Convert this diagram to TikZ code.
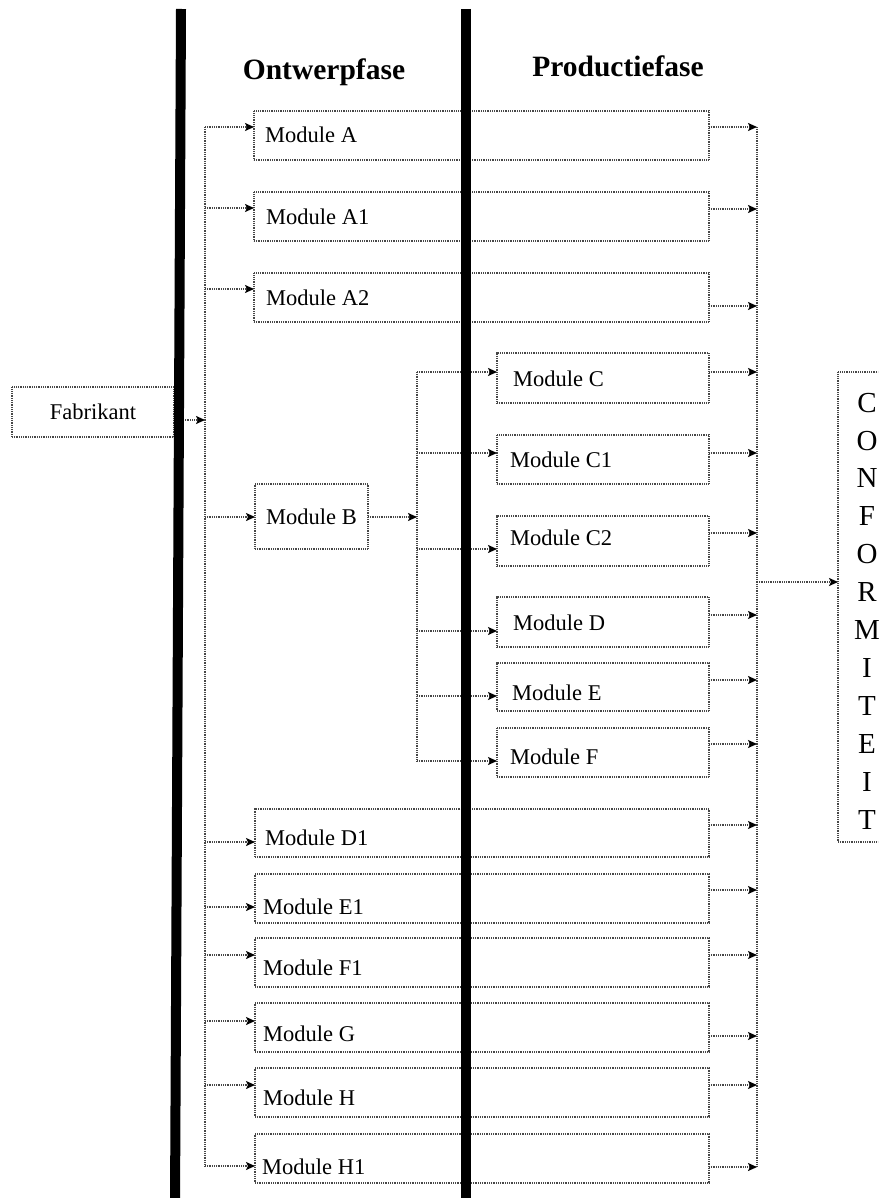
\documentclass[tikz,border=0pt]{standalone}
\usepackage{fontspec}
\setmainfont{Liberation Serif}
\usetikzlibrary{arrows.meta}
\tikzset{
  conn/.style={draw=black!72, line width=1.6pt, dash pattern=on 1pt off 0.8pt},
  arr/.style={conn, -{Stealth[length=9pt,width=8pt,inset=2pt,black]}},
  box/.style={conn, anchor=north west, inner sep=0pt, outer sep=0pt},
  lbl/.style={anchor=west, inner sep=0pt, font=\fontsize{22.5}{26}\selectfont},
  head/.style={anchor=base, inner sep=0pt, font=\fontsize{29.5}{34}\selectfont\bfseries},
  phase/.style={line width=10pt, draw=black},
}
% name, left, top, right, bottom, text x, text y, label
\newcommand\Mbox[8]{%
  \node[box, minimum width={#4-#2}, minimum height={#5-#3}] (#1) at (#2,#3) {};
  \node[lbl] (#1t) at (#6,#7) {#8};}
% name, in-bus x, in y, out-bus x, out y
\newcommand\Mlinks[5]{%
  \coordinate (#1i) at (#2,#3);
  \coordinate (#1o) at (#4,#5);
  \draw[arr] (#1i) -- (#1i -| #1.west);
  \draw[arr] (#1.east |- #1o) -- (#1o);}
\begin{document}
\begin{tikzpicture}[x=1pt,y=-1pt]
\useasboundingbox (0,0) rectangle (878,1198);
\clip (0,0) rectangle (878,1198);

% headers
\node[head] (ont) at (324,80) {Ontwerpfase};
\node[head] (prod) at (618,77) {Productiefase};

% Fabrikant
\node[box, font=\fontsize{22.5}{26}\selectfont, minimum width=162, minimum height=50] (fab) at (12,387) {Fabrikant};
\coordinate (lb) at (205,420);
\draw[arr] (fab.east |- lb) -- (lb);

% buses
\coordinate (lbT) at (205,127);
\coordinate (lbB) at (205,1166);
\draw[conn] (lbT) -- (lbB);
\coordinate (ibT) at (417,372);
\coordinate (ibB) at (417,761);
\draw[conn] (ibT) -- (ibB);
\coordinate (rbT) at (757,127);
\coordinate (rbB) at (757,1167);
\draw[conn] (rbT) -- (rbB);

% long modules
\Mbox{A}{254}{111}{709}{160}{265}{135}{Module A}
\Mlinks{A}{205}{127}{757}{127}
\Mbox{AA}{254}{192}{709}{241}{266}{217}{Module A1}
\Mlinks{AA}{205}{208}{757}{209}
\Mbox{AB}{254}{273}{709}{322}{266}{298}{Module A2}
\Mlinks{AB}{205}{289}{757}{306}

% Module B
\node[box, font=\fontsize{22.5}{26}\selectfont, minimum width=113, minimum height=65] (B) at (255,484) {Module B};
\coordinate (Bi) at (205,517);
\draw[arr] (Bi) -- (Bi -| B.west);
\coordinate (ib) at (417,517);
\draw[arr] (B.east |- ib) -- (ib);

% production modules
\Mbox{C}{497}{353}{709}{403}{513}{379}{Module C}
\Mlinks{C}{417}{372}{757}{372}
\Mbox{CA}{497}{435}{709}{484}{510}{460}{Module C1}
\Mlinks{CA}{417}{453}{757}{453}
\Mbox{CB}{497}{516}{709}{566}{510}{538}{Module C2}
\Mlinks{CB}{417}{549}{757}{533}
\Mbox{D}{497}{597}{709}{647}{513}{623}{Module D}
\Mlinks{D}{417}{631}{757}{615}
\Mbox{E}{497}{663}{709}{711}{512}{693}{Module E}
\Mlinks{E}{417}{696}{757}{680}
\Mbox{F}{497}{728}{709}{777}{510}{757}{Module F}
\Mlinks{F}{417}{761}{757}{744}

% lower long modules
\Mbox{DA}{255}{809}{709}{857}{265}{838}{Module D1}
\Mlinks{DA}{205}{842}{757}{825}
\Mbox{EA}{255}{874}{709}{923}{263}{907}{Module E1}
\Mlinks{EA}{205}{907}{757}{890}
\Mbox{FA}{255}{938}{709}{987}{263}{968}{Module F1}
\Mlinks{FA}{205}{955}{757}{955}
\Mbox{G}{255}{1003}{709}{1052}{263}{1034}{Module G}
\Mlinks{G}{205}{1021}{757}{1036}
\Mbox{H}{255}{1068}{709}{1117}{263}{1098}{Module H}
\Mlinks{H}{205}{1085}{757}{1085}
\Mbox{HA}{255}{1134}{709}{1183}{262}{1167}{Module H1}
\Mlinks{HA}{205}{1166}{757}{1167}

% conformiteit
\node[box, minimum width=60, minimum height=470] (confbox) at (838,372) {};
\node[inner sep=0pt, align=center, font=\fontsize{29}{37.9}\selectfont] (conf) at (867,611)
  {C\\O\\N\\F\\O\\R\\M\\I\\T\\E\\I\\T};
\coordinate (cb) at (757,582);
\draw[arr] (cb) -- (cb -| confbox.west);

% phase separators
\coordinate (p1T) at (181,9);
\coordinate (p1B) at (175,1205);
\draw[phase] (p1T) -- (p1B);
\coordinate (p2T) at (466,9);
\coordinate (p2B) at (466,1205);
\draw[phase] (p2T) -- (p2B);
\end{tikzpicture}
\end{document}
